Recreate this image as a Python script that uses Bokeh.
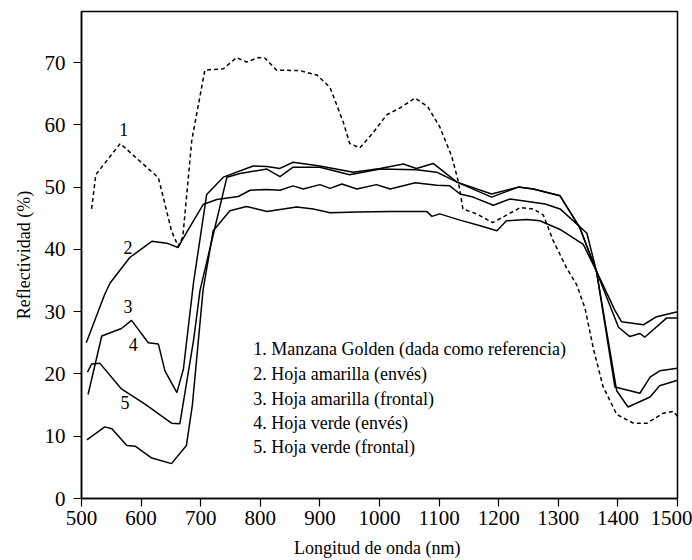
from bokeh.plotting import figure
from bokeh.models import Range1d, FixedTicker
from bokeh.core.properties import value
from bokeh.embed import file_html
from bokeh.resources import INLINE

# Curve 1: Manzana Golden (dashed)
c1_x = [517, 524, 565, 629, 651, 662, 670, 685, 707, 738, 760, 777, 797, 808, 827, 867, 895, 917, 939,
        950, 967, 989, 1012, 1034, 1060, 1081, 1101, 1121, 1132, 1140, 1163, 1190, 1213, 1236, 1258, 1275,
        1291, 1314, 1331, 1345, 1359, 1375, 1398, 1426, 1449, 1476, 1493, 1500]
c1_y = [46.5, 52, 57, 51.5, 43, 40.5, 42, 57.5, 68.8, 69, 70.8, 70.1, 70.8, 70.7, 68.8, 68.7, 68, 66, 60.5,
        57, 56.3, 58.7, 61.6, 62.7, 64.3, 62.9, 59.7, 55, 51, 46.5, 45.7, 44.3, 45.5, 46.7, 46.5, 45.5,
        41.5, 37, 34.3, 30.5, 24, 18, 13.5, 12.1, 12.1, 13.7, 14, 13.2]

# Curve 2: Hoja amarilla (envés)
c2_x = [508, 539, 548, 581, 618, 643, 662, 670, 704, 727, 763, 783, 811, 833, 855, 872, 900, 917, 937, 962,
        995, 1018, 1060, 1096, 1118, 1135, 1157, 1191, 1219, 1278, 1303, 1348, 1364, 1395, 1406, 1443, 1465, 1500]
c2_y = [25, 32.8, 34.6, 38.7, 41.3, 41, 40.3, 41.7, 47.2, 48, 48.5, 49.5, 49.6, 49.5, 50.2, 49.7, 50.4, 49.8, 50.5,
        49.7, 50.4, 49.7, 50.7, 50.3, 50.2, 48.9, 48.4, 47.1, 48.1, 47.3, 46.5, 42.6, 36.5, 30.2, 28.4, 27.9, 29.2, 30.0]

# Curve 3: Hoja amarilla (frontal)
c3_x = [511, 534, 567, 584, 612, 629, 640, 660, 671, 688, 710, 738, 788, 811, 833, 855, 900, 956, 1001, 1040,
        1062, 1090, 1130, 1188, 1233, 1258, 1303, 1336, 1364, 1401, 1420, 1437, 1445, 1482, 1500]
c3_y = [16.7, 26.1, 27.3, 28.6, 25.0, 24.8, 20.5, 17, 20.8, 34.7, 48.8, 51.6, 53.4, 53.3, 53.0, 54.0, 53.4, 52.4,
        53.0, 53.7, 53.0, 53.8, 50.8, 48.9, 50.0, 49.7, 48.6, 43.5, 36.5, 27.5, 26.0, 26.5, 25.9, 29.0, 29.0]

# Curve 4: Hoja verde (envés)
c4_x = [510, 517, 531, 567, 606, 651, 665, 688, 699, 744, 766, 811, 833, 855, 900, 950, 1001, 1062, 1096, 1130,
        1188, 1233, 1258, 1303, 1336, 1364, 1395, 1437, 1454, 1470, 1500]
c4_y = [20.3, 21.6, 21.7, 17.6, 15.2, 12.1, 12.0, 25.4, 33.5, 51.6, 52.2, 52.9, 51.7, 53.2, 53.2, 52.0, 52.9, 52.8,
        52.4, 50.8, 48.4, 50.0, 49.7, 48.6, 43.5, 36.5, 17.9, 16.9, 19.5, 20.5, 20.9]

# Curve 5: Hoja verde (frontal)
c5_x = [509, 539, 551, 576, 590, 618, 651, 676, 686, 704, 721, 749, 777, 811, 861, 889, 917, 962, 1018, 1079,
        1088, 1101, 1135, 1169, 1197, 1213, 1247, 1269, 1303, 1342, 1364, 1398, 1417, 1454, 1470, 1500]
c5_y = [9.4, 11.5, 11.2, 8.5, 8.4, 6.5, 5.6, 8.5, 15, 33.5, 43.0, 46.2, 46.9, 46.1, 46.8, 46.5, 45.9, 46.0, 46.1,
        46.1, 45.3, 45.7, 44.7, 43.8, 43.0, 44.6, 44.8, 44.6, 43.2, 40.8, 36.5, 17.3, 14.7, 16.3, 18.1, 19.0]

# Curve number labels
num_text = ["1", "2", "3", "4", "5"]
num_x = [571, 578, 578, 587, 573]
num_y = [59.2, 40.3, 30.8, 24.7, 15.4]

# Legend text (in-plot)
leg_text = ["1. Manzana Golden (dada como referencia)",
            "2. Hoja amarilla (envés)",
            "3. Hoja amarilla (frontal)",
            "4. Hoja verde (envés)",
            "5. Hoja verde (frontal)"]
leg_x = [788, 788, 788, 788, 788]
leg_y = [24.0, 20.0, 16.0, 12.1, 8.2]

x_ticks = [500, 600, 700, 800, 900, 1000, 1100, 1200, 1300, 1400, 1500]
y_ticks = [0, 10, 20, 30, 40, 50, 60, 70]

FONT = "Liberation Serif"

p = figure(width=692, height=560, output_backend="svg", toolbar_location=None,
           x_range=Range1d(500, 1500), y_range=Range1d(0, 78.2),
           min_border_left=81, min_border_right=15, min_border_top=11, min_border_bottom=60)
p.background_fill_color = "white"
p.border_fill_color = "white"
p.outline_line_color = "black"
p.outline_line_width = 1.5
p.xgrid.visible = False
p.ygrid.visible = False

for ax in (p.xaxis[0], p.yaxis[0]):
    ax.axis_line_color = "black"
    ax.axis_line_width = 1.5
    ax.major_tick_line_color = "black"
    ax.major_tick_line_width = 1.2
    ax.major_tick_in = 0
    ax.major_tick_out = 8
    ax.minor_tick_line_color = None
    ax.major_label_text_font = FONT
    ax.major_label_text_font_size = "21px"
    ax.major_label_text_color = "black"
    ax.axis_label_text_font = FONT
    ax.axis_label_text_font_size = "18px"
    ax.axis_label_text_font_style = "normal"
    ax.axis_label_text_color = "black"

p.xaxis.ticker = FixedTicker(ticks=x_ticks)
p.yaxis.ticker = FixedTicker(ticks=y_ticks)
p.xaxis.axis_label = "Longitud de  onda (nm)"
p.yaxis.axis_label = "Reflectividad (%)"
p.xaxis.major_label_standoff = 4
p.yaxis.major_label_standoff = 8
p.xaxis.axis_label_standoff = 10
p.yaxis.axis_label_standoff = 8

p.line(c1_x, c1_y, line_color="black", line_width=1.5, line_dash="4 3")
p.line(c2_x, c2_y, line_color="black", line_width=1.5)
p.line(c3_x, c3_y, line_color="black", line_width=1.5)
p.line(c4_x, c4_y, line_color="black", line_width=1.5)
p.line(c5_x, c5_y, line_color="black", line_width=1.5)

p.text(x=num_x, y=num_y, text=num_text, text_font=value(FONT), text_font_size="18px",
       text_align="center", text_baseline="middle", text_color="black")
p.text(x=leg_x, y=leg_y, text=leg_text, text_font=value(FONT), text_font_size="18px",
       text_align="left", text_baseline="middle", text_color="black")

open("out.html", "w").write(file_html(p, INLINE))
